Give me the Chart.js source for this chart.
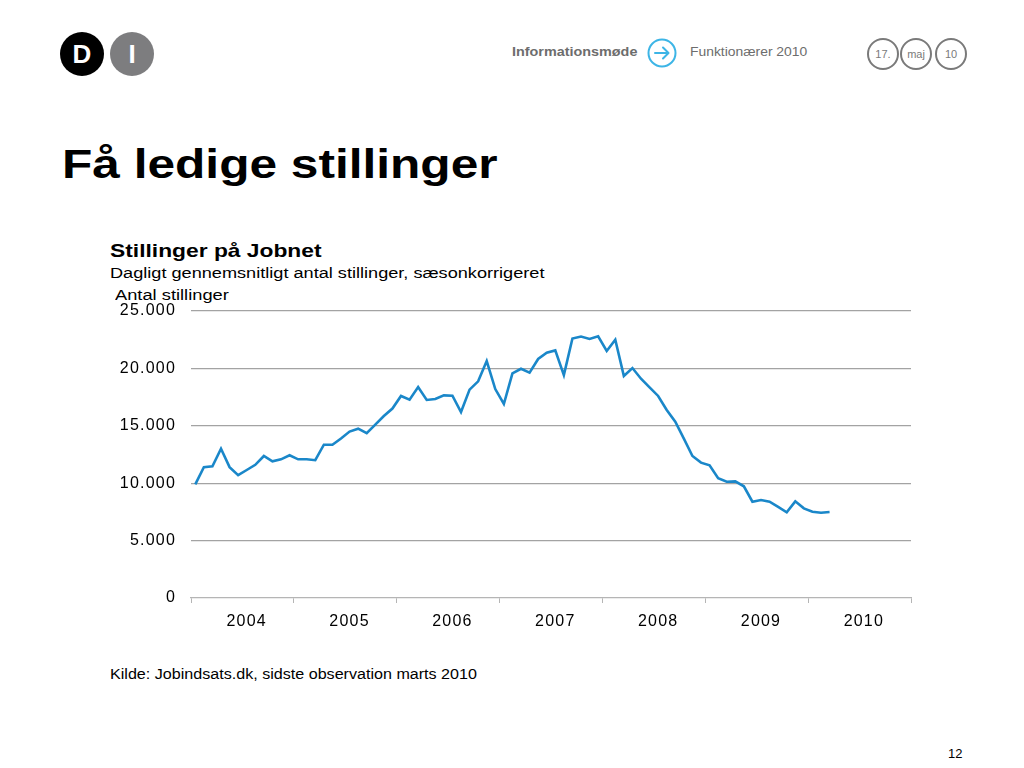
<!DOCTYPE html>
<html>
<head>
<meta charset="utf-8">
<script src="https://cdn.jsdelivr.net/npm/chart.js@4/dist/chart.umd.min.js"></script>
<style>
  body { margin:0; width:1024px; height:768px; background:#fff; position:relative; overflow:hidden;
         font-family:"Liberation Sans", Arial, Helvetica, sans-serif; color:#000; }
  .abs { position:absolute; white-space:nowrap; transform-origin:0 0; }
  .logo { width:44px; height:44px; border-radius:50%; color:#fff; font-weight:bold; font-size:26px;
          text-align:center; line-height:44px; }
  .date { width:28px; height:28px; border:2px solid #7a7a7a; border-radius:50%; color:#7a7a7a;
          font-size:11px; text-align:center; line-height:28px; }
  #chart-box { left:100px; top:280px; width:830px; height:370px; }
</style>
</head>
<body>
  <!-- Header -->
  <div class="abs logo" style="left:60px;top:32px;background:#000">D</div>
  <div class="abs logo" style="left:110px;top:32px;background:#7d7d7f">I</div>

  <div class="abs" style="left:512px;top:45px;font-size:12.5px;font-weight:bold;color:#6d6d6d;transform:scaleX(1.15)">Informationsmøde</div>
  <svg class="abs" style="left:647px;top:38px" width="30" height="30" viewBox="0 0 30 30">
    <circle cx="15" cy="15" r="13.5" fill="none" stroke="#3db5e6" stroke-width="2"/>
    <path d="M8 15 H21 M16 9.5 L21.5 15 L16 20.5" fill="none" stroke="#3db5e6" stroke-width="2" stroke-linecap="round" stroke-linejoin="round"/>
  </svg>
  <div class="abs" style="left:690px;top:45px;font-size:12.5px;color:#6d6d6d;transform:scaleX(1.11)">Funktionærer 2010</div>

  <div class="abs date" style="left:867px;top:38px">17.</div>
  <div class="abs date" style="left:900px;top:38px">maj</div>
  <div class="abs date" style="left:935px;top:38px">10</div>

  <!-- Title -->
  <div class="abs" style="left:62px;top:141px;font-size:41px;font-weight:bold;transform:scaleX(1.21)">Få ledige stillinger</div>

  <!-- Chart heading -->
  <div class="abs" style="left:110px;top:240px;font-size:19px;font-weight:bold;transform:scaleX(1.2)">Stillinger på Jobnet</div>
  <div class="abs" style="left:110px;top:264px;font-size:15.5px;transform:scaleX(1.17)">Dagligt gennemsnitligt antal stillinger, sæsonkorrigeret</div>
  <div class="abs" style="left:115px;top:286px;font-size:15.5px;transform:scaleX(1.18)">Antal stillinger</div>

  <div class="abs" id="chart-box"><canvas id="jobnet-chart"></canvas></div>

  <div class="abs" style="left:110px;top:666px;font-size:14px;transform:scaleX(1.15)">Kilde: Jobindsats.dk, sidste observation marts 2010</div>
  <div class="abs" style="left:948px;top:746px;font-size:13px">12</div>

<script>
// ── Data: monthly, Jan 2004 – Mar 2010 ──
const years = ['2004', '2005', '2006', '2007', '2008', '2009', '2010'];
const yTicks = [0, 5000, 10000, 15000, 20000, 25000];
const stillinger = [
  9900, 11400, 11470, 13000, 11400, 10700, 11150, 11600, 12370, 11900, 12080, 12430,
  12080, 12080, 12000, 13350, 13350, 13900, 14500, 14750, 14350, 15100, 15850, 16500,
  17600, 17280, 18380, 17250, 17330, 17650, 17620, 16200, 18150, 18870, 20640, 18200,
  16900, 19570, 19970, 19630, 20820, 21370, 21570, 19420, 22600, 22770, 22560, 22800,
  21520, 22500, 19340, 20030, 19100, 18350, 17600, 16380, 15360, 13880, 12370, 11790,
  11560, 10430, 10130, 10160, 9730, 8390, 8540, 8390, 7930, 7470, 8420, 7810,
  7520, 7430, 7490,
];

const MONTHS = 12 * years.length;
const fmt = v => String(v).replace(/\B(?=(\d{3})+(?!\d))/g, '.');

// points sit mid-month; year labels sit mid-year
const points = stillinger.map((v, i) => ({ x: i + 0.5, y: v }));
const xTicks = [];
years.forEach((y, i) => { xTicks.push(i * 12, i * 12 + 6.5); });
xTicks.push(MONTHS);

// the slide's text is set a little wide; widen the tick labels to match
const wideText = {
  id: 'wideText',
  beforeDraw: chart => { chart.ctx.letterSpacing = '1.2px'; },
};

const tickFont = { family: '"Liberation Sans", Arial, sans-serif', size: 16 };

new Chart(document.getElementById('jobnet-chart'), {
  type: 'line',
  data: {
    datasets: [{
      data: points,
      borderColor: '#1a87c9',
      borderWidth: 2.6,
      pointRadius: 0,
      tension: 0,
      fill: false,
    }],
  },
  options: {
    responsive: true,
    maintainAspectRatio: false,
    animation: false,
    layout: { padding: { top: 31, right: 19, bottom: 10, left: 0 } },
    plugins: { legend: { display: false }, tooltip: { enabled: false } },
    scales: {
      x: {
        type: 'linear',
        min: 0,
        max: MONTHS,
        afterBuildTicks: s => { s.ticks = xTicks.map(v => ({ value: v })); },
        afterFit: s => { s.height = 42; },
        border: { display: true, color: '#b5b5b5', width: 1.3 },
        grid: {
          drawOnChartArea: false,
          tickLength: 5,
          color: c => (c.tick && c.tick.value % 12 === 0) ? '#b5b5b5' : 'rgba(0,0,0,0)',
        },
        ticks: {
          autoSkip: false,
          maxRotation: 0,
          padding: 9,
          color: '#000',
          font: tickFont,
          callback: v => (v % 12 === 6.5) ? years[Math.floor(v / 12)] : '',
        },
      },
      y: {
        min: 0,
        max: 25000,
        afterBuildTicks: s => { s.ticks = yTicks.map(v => ({ value: v })); },
        afterFit: s => { s.width = 91; },
        border: { display: false },
        grid: {
          drawTicks: false,
          color: c => c.tick.value === 0 ? 'rgba(0,0,0,0)' : '#a3a3a3',
          lineWidth: 1.2,
        },
        ticks: {
          padding: 15,
          color: '#000',
          font: tickFont,
          callback: v => fmt(v),
        },
      },
    },
  },
  plugins: [wideText],
});
</script>
</body>
</html>
